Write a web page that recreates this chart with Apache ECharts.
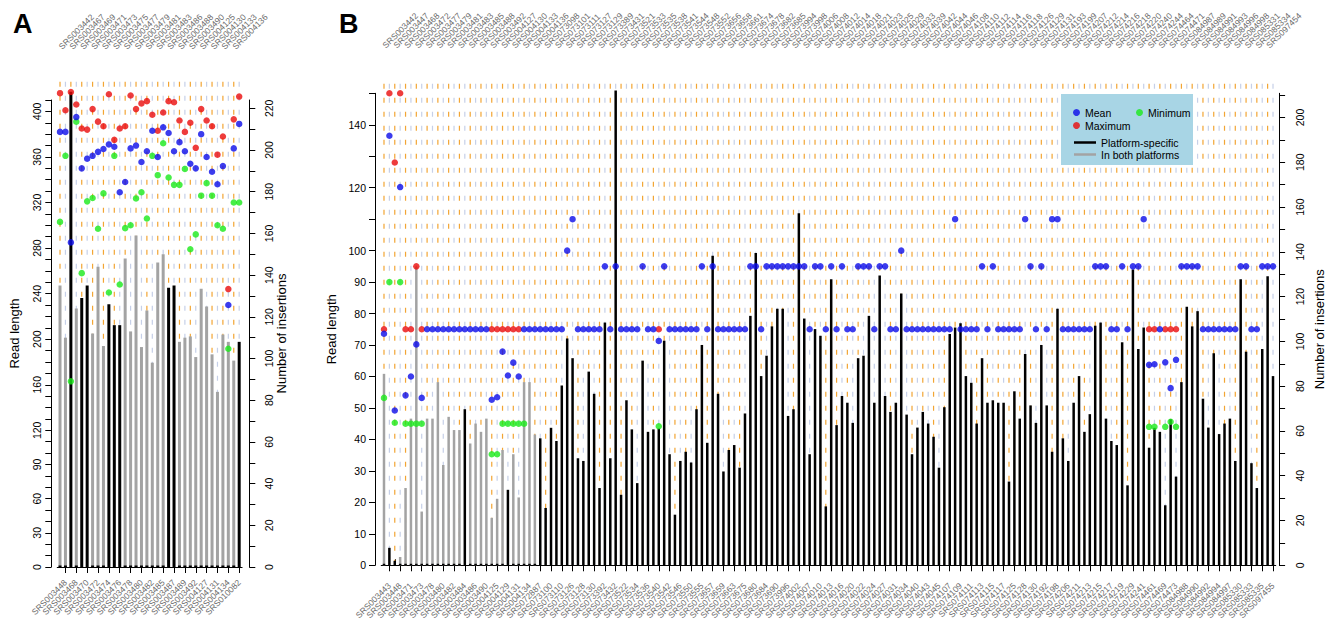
<!DOCTYPE html>
<html><head><meta charset="utf-8">
<script src="https://cdn.jsdelivr.net/npm/echarts@6/dist/echarts.min.js"></script>
<style>html,body{margin:0;padding:0;background:#fff}#c{width:1334px;height:622px}</style>
</head><body><div id="c"></div>
<script>
// ---------------- DATA ----------------
const categoriesA = ['SRS003442','SRS003448','SRS003467','SRS003468','SRS003469','SRS003470','SRS003471','SRS003472','SRS003473','SRS003474','SRS003475','SRS003476','SRS003477','SRS003478','SRS003479','SRS003480','SRS003481','SRS003482','SRS003483','SRS003485','SRS003486','SRS003487','SRS003488','SRS003489','SRS003490','SRS003492','SRS004125','SRS004127','SRS004130','SRS004131','SRS004133','SRS004134','SRS004136','SRS010082'];
const meanA = [382,382,285,395,350,358.5,361,364.5,367,371,369,329,338,367.5,370,355.6,365,383,360,386,381,365,373,365,354,350,380,360,347,336,352,230,367.5,389];
const maxA  = [416,401,417,406,385,384,402,391,387,415,375,385,387,414,402,407,409,397,383,399,409,408,392,382,390,368,402,392,387,362,378,244,393,413];
const minA  = [303,361,163,391,258,321,324,297,328,241,361,248,297.5,300,323.6,329,306,361,344,372,342,335.5,335.5,349.5,279,292,326,337,326,300,297,191.6,320,320];
const insertionsA = [135,110,228,124,129,135,112,144,106,126,116,116,148,113,159,105.5,123,98,146,150,134,135,108,110,110.6,100.7,133.5,125,102,84,111.5,108,99,108];
const platformSpecificA = [2,4,5,9,10,11,20,21,33]; // indices of platform-specific samples

const categoriesB = ['SRS003442','SRS003443','SRS003447','SRS003448','SRS003468','SRS003471','SRS003472','SRS003473','SRS003477','SRS003478','SRS003479','SRS003480','SRS003481','SRS003482','SRS003483','SRS003484','SRS003485','SRS003486','SRS003488','SRS003490','SRS003492','SRS004125','SRS004127','SRS004129','SRS004130','SRS004131','SRS004133','SRS004134','SRS004136',
'SRS072887','SRS073098','SRS073100','SRS073101','SRS073110','SRS073111','SRS073126','SRS073127','SRS073128','SRS073129','SRS073130','SRS073389','SRS073392','SRS073431','SRS073432','SRS073521','SRS073522','SRS073533','SRS073534','SRS073535','SRS073536','SRS073538','SRS073540','SRS073541','SRS073542','SRS073544','SRS073546','SRS073548','SRS073550','SRS073552','SRS073555','SRS073656','SRS073657','SRS073658','SRS073659','SRS073661','SRS073663','SRS073674','SRS073675','SRS073678','SRS073680','SRS073682','SRS073684','SRS073685','SRS073690','SRS073994','SRS073996','SRS073998','SRS074002','SRS074006','SRS074007','SRS074008','SRS074010','SRS074012','SRS074013','SRS074014','SRS074016','SRS074018','SRS074020','SRS074021','SRS074022','SRS074023','SRS074024','SRS074025','SRS074027','SRS074029','SRS074031','SRS074033','SRS074034','SRS074039','SRS074040','SRS074042','SRS074043','SRS074044','SRS074045','SRS074046','SRS074107','SRS074108','SRS074109','SRS074110','SRS074111','SRS074112','SRS074113','SRS074114','SRS074115','SRS074116','SRS074117','SRS074118','SRS074125','SRS074126','SRS074128','SRS074129','SRS074130','SRS074131','SRS074192','SRS074193','SRS074198','SRS074199','SRS074206','SRS074207','SRS074211','SRS074212','SRS074213','SRS074214','SRS074215','SRS074216','SRS074217','SRS074218','SRS074219','SRS074220','SRS074229','SRS074240','SRS074241','SRS074244','SRS074461','SRS074464','SRS074469','SRS074471','SRS074473','SRS084987','SRS084988','SRS084989','SRS084990','SRS084991','SRS084992','SRS084993','SRS084994','SRS084996','SRS084997','SRS084998','SRS085330','SRS085331','SRS085333','SRS085334','SRS085335','SRS097454','SRS097455'];
const insertionsB = [85.5,7.8,2,3.7,34.5,65.5,133.3,24,65.5,65.5,81.8,44.8,66.3,60.4,60.4,69.7,54.4,63.3,59.6,65.5,21.2,29.7,51.5,33.7,49.6,30.3,81.8,81.8,58.4,
56.7,25.6,61.4,55.5,80.3,101.3,92.5,47.8,46.6,86.5,
76.6,34.5,108.4,47.8,212,31.5,73.7,60.7,36.7,91.4,59.6,
60.7,61.1,100.3,49.6,22.6,46.6,50.7,45.9,69.7,98.4,
54.7,138.3,76.6,41.9,51.5,53.7,43.6,67.8,111.4,139.5,
84.5,93.6,106.7,114.6,114.6,66.7,69.7,157.2,110.2,49.6,
105.5,102.5,26.3,127.7,62.6,75.6,72.6,63.6,92.5,93.6,
111.4,72.6,129.4,75.6,68.5,72.6,121.4,67.3,49.6,61.5,
68.5,63.3,57.4,43.6,70.6,103.3,106.2,108.1,84.5,81.5,
63.3,92.5,72.6,73.7,72.6,72.6,37.4,77.7,65.5,94.4,
71.4,63.6,98.4,71.4,50.7,114.6,56.7,46.6,72.6,84.5,
59.6,67.5,107,108.4,65.5,55.5,53.7,99.6,35.7,132.1,
96.6,106.2,52.5,61.4,59.6,26.8,65.2,39.6,81.8,115.5,
106.7,113.5,74.4,61.5,94.7,58.6,63.3,65.5,46.6,127.7,
95.4,45.6,34.5,96.6,129.1,84.5];
const inBothPlatformsB = [0,3,4,5,6,7,8,9,10,11,12,13,14,16,17,18,19,20,21,22,24,25,26,27,28]; // indices of samples in both platforms
const meanB = [73.6,136.5,49.2,120.2,54,60,70.2,53.2,75,75,
75,75,75,75,75,75,75,75,75,75,
52.6,53.4,67.9,60.3,64.4,60,75,75,75,75,
75,75,75,75,100,110,75,75,75,75,
75,95,75,95,75,75,75,75,95,75,
75,71.3,95,75,75,75,75,75,75,95,
75,95,75,75,75,75,75,75,95,95,
75,95,95,95,95,95,95,95,95,75,
95,95,75,95,75,95,75,75,95,95,
95,75,95,95,75,75,100,75,75,75,
75,75,75,75,75,75,110,75,75,75,
75,95,75,95,75,75,75,75,75,110,
95,75,95,75,110,110,75,75,75,75,
75,75,95,95,95,75,75,95,75,95,
95,110,63.7,63.9,75,64.5,56.3,65.3,95,95,
95,95,75,75,75,75,75,75,75,95,
95,75,75,95,95,95];
const maxB = [[0,75],[1,150],[2,128],[3,150],[4,75],[5,75],[6,95],[7,75],[20,75],[21,75],[22,75],[23,75],[24,75],[25,75],[51,75],[142,75],[143,75],[145,75],[146,75],[147,75]];
const minB = [[0,53.2],[1,90],[2,45.3],[3,90],[4,45],[5,45],[6,45],[7,45],[20,35.3],[21,35.3],[22,45],[23,45],[24,45],[25,45],[26,45],[51,44.2],[142,44],[143,44],[145,44],[146,45.6],[147,44]];

const readTicksA = [0,10,20,30,40,50,60,70,80,90,100,110,120,130,140,150,160,170,180,190,200,210,220,230,240,250,260,270,280,290,300,310,320,330,340,350,360,370,380,390,400,410];
const readLabelsA = [0,30,60,90,120,160,200,240,280,320,360,400];
const insTicksA = [0,10,20,30,40,50,60,70,80,90,100,110,120,130,140,150,160,170,180,190,200,210,220];
const insLabelsA = [0,20,40,60,80,100,120,140,160,180,200,220];
const readTicksB = [0,10,20,30,40,50,60,70,80,90,100,110,120,130,140,150];
const readLabelsB = [0,10,20,30,40,50,60,70,80,90,100,120,140];
const insTicksB = [0,10,20,30,40,50,60,70,80,90,100,110,120,130,140,150,160,170,180,190,200,210];
const insLabelsB = [0,20,40,60,80,100,120,140,160,180,200];

// ---------------- STYLE / LAYOUT ----------------
const FONT = '"Liberation Sans", Arial, Helvetica, sans-serif';
const BLUE = '#0b0be8', RED = '#ea0b0b', GREEN = '#19ea19', GREY = '#a3a3a3', ORANGE = '#f2a534', PALE = '#c6d0e8';
const dashTopA = 426, dashTopB = 153;

function catAxis(grid, pos, cats, parity, offset, margin) {
  return {
    type: 'category', gridIndex: grid, position: pos, data: cats, offset: offset, boundaryGap: true,
    axisLine: { show: true, lineStyle: { color: '#000', width: 1 } },
    axisTick: { show: true, alignWithLabel: true, length: 6, interval: (i) => i % 2 === parity, lineStyle: { color: '#000' } },
    axisLabel: { show: true, interval: 0, formatter: (v, i) => (i % 2 === parity ? v : ''), rotate: 45, fontSize: 8.5,
      color: '#6a6a6a', margin: margin, fontFamily: FONT },
    splitLine: { show: false }
  };
}
function valAxis(grid, pos, max, offset, ticks, labels, rot, margin, name, nameGap) {
  return {
    type: 'value', gridIndex: grid, position: pos, min: 0, max: max, offset: offset,
    axisLine: { show: true, lineStyle: { color: '#000', width: 1 } },
    axisTick: { show: true, length: 6, customValues: ticks, lineStyle: { color: '#000' } },
    axisLabel: { show: true, customValues: labels, rotate: rot, margin: margin, fontSize: 10.5, color: '#000', fontFamily: FONT },
    splitLine: { show: false },
    name: name, nameLocation: 'middle', nameRotate: 90, nameGap: nameGap,
    nameTextStyle: { fontSize: 13, color: '#000', fontFamily: FONT }
  };
}
function dashSeries(xi, yi, cats, top) {
  return {
    type: 'custom', xAxisIndex: xi, yAxisIndex: yi, silent: true, z: 1, clip: false,
    data: cats.map((c, i) => [i, 0]), encode: { x: 0, y: 1 },
    renderItem: function (params, api) {
      const i = api.value(0);
      const p1 = api.coord([i, top]), p2 = api.coord([i, 0]);
      return { type: 'line', shape: { x1: p1[0], y1: p1[1], x2: p2[0], y2: p2[1] },
        style: { stroke: i % 2 === 0 ? ORANGE : PALE, lineWidth: 1.2, lineDash: [5, 9] } };
    }
  };
}
function dots(name, xi, yi, data, color) {
  return { type: 'scatter', name: name, xAxisIndex: xi, yAxisIndex: yi, data: data, symbolSize: 6.5,
    itemStyle: { color: color }, clip: false, z: 5, silent: true };
}
function bars(name, xi, yi, data, color, w, minH) {
  return { type: 'bar', name: name, xAxisIndex: xi, yAxisIndex: yi, data: data, barWidth: w, barGap: '-100%',
    barMinHeight: minH, itemStyle: { color: color }, clip: false, z: 3, silent: true };
}
function legendAt(items, left, top, extra) {
  return Object.assign({ data: items, left: left, top: top, orient: 'horizontal', itemWidth: 7, itemHeight: 7, icon: 'circle',
    selectedMode: false, z: 10, textStyle: { fontSize: 10.5, color: '#000', fontFamily: FONT } }, extra || {});
}

const greyA = insertionsA.map((v, i) => platformSpecificA.includes(i) ? null : v);
const blackA = insertionsA.map((v, i) => platformSpecificA.includes(i) ? v : 0);
const greyB = insertionsB.map((v, i) => inBothPlatformsB.includes(i) ? v : null);
const blackB = insertionsB.map((v, i) => inBothPlatformsB.includes(i) ? 0 : v);

const chart = echarts.init(document.getElementById('c'), null, { renderer: 'svg', width: 1334, height: 622 });
chart.setOption({
  animation: false,
  backgroundColor: '#fff',
  title: [
    { text: 'A', left: 8, top: 5, textStyle: { fontSize: 27, fontWeight: 'bold', color: '#000', fontFamily: FONT } },
    { text: 'B', left: 334, top: 5, textStyle: { fontSize: 27, fontWeight: 'bold', color: '#000', fontFamily: FONT } }
  ],
  grid: [
    { left: 57.3, top: 100, width: 184.6, height: 467, containLabel: false },
    { left: 381.3, top: 93.3, width: 898, height: 475, containLabel: false }
  ],
  xAxis: [
    catAxis(0, 'bottom', categoriesA, 1, 0, 14),
    catAxis(0, 'top', categoriesA, 0, 30, 22),
    catAxis(1, 'bottom', categoriesB, 1, 4, 15),
    catAxis(1, 'top', categoriesB, 0, 21.6, 25)
  ],
  yAxis: [
    valAxis(0, 'left', 410, 6, readTicksA, readLabelsA, 90, 9, 'Read length', 30),
    valAxis(0, 'right', 224, 7.4, insTicksA, insLabelsA, 90, 14, 'Number of insertions', 26),
    valAxis(1, 'left', 150, 6.3, readTicksB, readLabelsB, 0, 9, 'Read length', 22),
    valAxis(1, 'right', 210.8, 3.4, insTicksB, insLabelsB, 90, 15, 'Number of insertions', 29)
  ],
  legend: [
    legendAt(['Mean'], 1068, 102),
    legendAt(['Minimum'], 1131, 102),
    legendAt(['Maximum'], 1068, 115),
    legendAt([{ name: 'Platform-specific', icon: 'rect' }, { name: 'In both platforms', icon: 'rect' }], 1069, 132,
      { orient: 'vertical', itemWidth: 22, itemHeight: 2.5, itemGap: 1 })
  ],
  graphic: { elements: [ { type: 'rect', z: 8, shape: { x: 1061, y: 94, width: 132, height: 71 }, style: { fill: '#a8d5e5' } } ] },
  series: [
    dashSeries(0, 0, categoriesA, dashTopA),
    bars('In both platforms', 0, 1, greyA, GREY, 3, 0),
    bars('Platform-specific', 0, 1, blackA, '#000', 3, 1.5),
    dots('Maximum', 0, 0, maxA.map((v, i) => [i, v]), RED),
    dots('Minimum', 0, 0, minA.map((v, i) => [i, v]), GREEN),
    dots('Mean', 0, 0, meanA.map((v, i) => [i, v]), BLUE),

    dashSeries(2, 2, categoriesB, dashTopB),
    bars('In both platforms', 2, 3, greyB, GREY, 2.5, 0),
    bars('Platform-specific', 2, 3, blackB, '#000', 2.5, 1.5),
    dots('Maximum', 2, 2, maxB, RED),
    dots('Minimum', 2, 2, minB, GREEN),
    dots('Mean', 2, 2, meanB.map((v, i) => [i, v]), BLUE)
  ]
});
</script>
</body></html>
